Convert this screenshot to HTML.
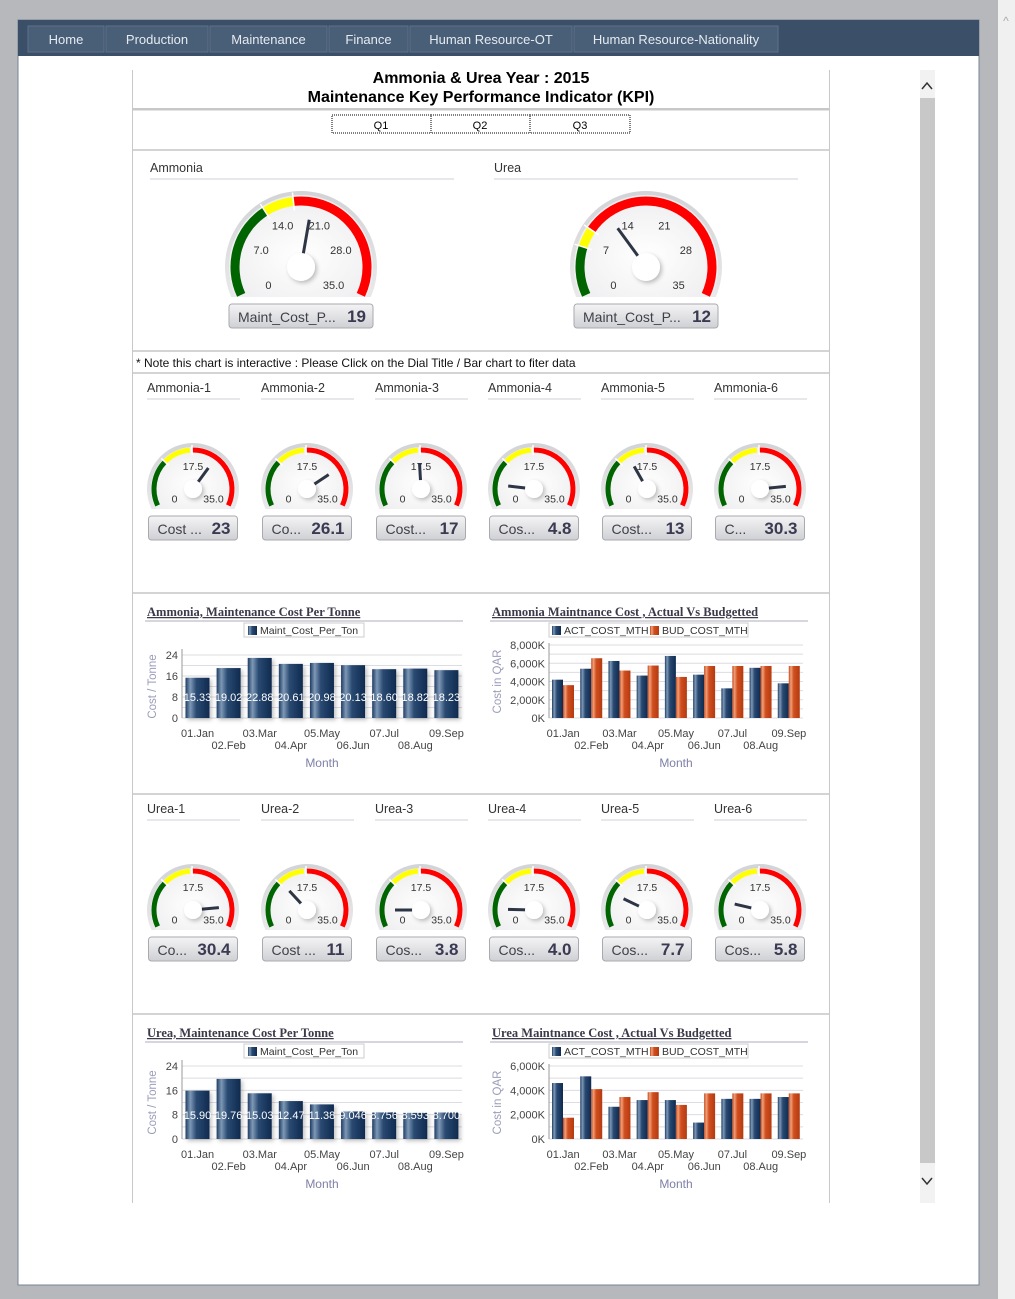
<!DOCTYPE html>
<html><head><meta charset="utf-8">
<style>
html,body{margin:0;padding:0;background:#b6b8bc;width:1015px;height:1299px;overflow:hidden;font-family:"Liberation Sans",sans-serif;}
#stage{position:absolute;left:0;top:0;}
</style></head>
<body>
<svg id="stage" width="1015" height="1299" xmlns="http://www.w3.org/2000/svg">
<defs>
<linearGradient id="bezel" x1="0" y1="0" x2="0" y2="1"><stop offset="0" stop-color="#d2d3d6"/><stop offset="1" stop-color="#e9e9eb"/></linearGradient>
<radialGradient id="face" cx="0.5" cy="0.6" r="0.6"><stop offset="0" stop-color="#ffffff"/><stop offset="1" stop-color="#eeeef0"/></radialGradient>
<linearGradient id="lbl" x1="0" y1="0" x2="0" y2="1"><stop offset="0" stop-color="#f4f4f5"/><stop offset="1" stop-color="#cfd0d4"/></linearGradient>
<linearGradient id="navy" x1="0" y1="0" x2="1" y2="0"><stop offset="0" stop-color="#1f3c63"/><stop offset="0.2" stop-color="#7e98b6"/><stop offset="0.45" stop-color="#2a4a72"/><stop offset="1" stop-color="#0f2a4f"/></linearGradient>
<linearGradient id="orng" x1="0" y1="0" x2="1" y2="0"><stop offset="0" stop-color="#c2461b"/><stop offset="0.2" stop-color="#f0a07a"/><stop offset="0.45" stop-color="#d14f1f"/><stop offset="1" stop-color="#b43a10"/></linearGradient>
<filter id="sh" x="-50%" y="-50%" width="200%" height="200%"><feDropShadow dx="2" dy="2" stdDeviation="2" flood-color="#000" flood-opacity="0.25"/></filter>
</defs>
<rect x="998" y="0" width="17" height="1299" fill="#f0f0f0"/>
<text x="1006" y="25" font-size="12" fill="#aaa" text-anchor="middle">^</text>
<rect x="18" y="20" width="961" height="1265" fill="#fff" stroke="#7a8594"/>
<rect x="18" y="20" width="961" height="36" fill="#3b5068"/>
<g id="nav"></g>
<line x1="132.5" y1="70" x2="132.5" y2="1203" stroke="#c8c8c8"/>
<line x1="829.5" y1="70" x2="829.5" y2="1203" stroke="#c8c8c8"/>
<rect x="920" y="70" width="15" height="1133" fill="#c8c8c8"/>
<rect x="920" y="70" width="15" height="28" fill="#f2f2f2"/>
<rect x="920" y="1163" width="15" height="40" fill="#f2f2f2"/>
<path d="M922,89 l5,-6 l5,6" fill="none" stroke="#333" stroke-width="1.5"/>
<path d="M922,1178 l5,6 l5,-6" fill="none" stroke="#333" stroke-width="1.5"/>
<text x="481" y="83" font-size="16" font-weight="bold" text-anchor="middle" fill="#000">Ammonia &amp; Urea Year : 2015</text>
<text x="481" y="102" font-size="16" font-weight="bold" text-anchor="middle" fill="#000">Maintenance Key Performance Indicator (KPI)</text>
<rect x="133" y="108" width="696" height="2.5" fill="#c8c8c8"/>
<g>
<rect x="332" y="115" width="99" height="18" fill="#fff" stroke="#000" stroke-dasharray="1,1"/>
<rect x="431" y="115" width="99" height="18" fill="#fff" stroke="#000" stroke-dasharray="1,1"/>
<rect x="530" y="115" width="100" height="18" fill="#fff" stroke="#000" stroke-dasharray="1,1"/>
<text x="381" y="129" font-size="11" text-anchor="middle">Q1</text>
<text x="480" y="129" font-size="11" text-anchor="middle">Q2</text>
<text x="580" y="129" font-size="11" text-anchor="middle">Q3</text>
</g>
<g fill="#d4d4d4">
<rect x="133" y="149" width="696" height="2"/>
<rect x="133" y="350" width="696" height="2"/>
<rect x="133" y="372" width="696" height="2"/>
<rect x="133" y="592" width="696" height="2"/>
<rect x="133" y="793" width="696" height="2"/>
<rect x="133" y="1013" width="696" height="2"/>
</g>
<text x="136" y="367" font-size="12" fill="#111">* Note this chart is interactive : Please Click on the Dial Title / Bar chart to fiter data</text>
<g id="gauges"></g>
<g id="charts"></g>
</svg>
<script>
// ---- data ----
var navTabs = ["Home","Production","Maintenance","Finance","Human Resource-OT","Human Resource-Nationality"];
var navEdges = [28,106,210,329,410,574,780];
var bigNames = ["Ammonia","Urea"];
var bigValues = [19, 12];
var bigDisplay = ["19","12"];
var ammoniaUnits = ["Ammonia-1","Ammonia-2","Ammonia-3","Ammonia-4","Ammonia-5","Ammonia-6"];
var ammoniaUnitValues = [23, 26.1, 17, 4.8, 13, 30.3];
var ammoniaUnitDisplay = ["23","26.1","17","4.8","13","30.3"];
var ammoniaUnitLabels = ["Cost ...","Co...","Cost...","Cos...","Cost...","C..."];
var ureaUnits = ["Urea-1","Urea-2","Urea-3","Urea-4","Urea-5","Urea-6"];
var ureaUnitValues = [30.4, 11, 3.8, 4.0, 7.7, 5.8];
var ureaUnitDisplay = ["30.4","11","3.8","4.0","7.7","5.8"];
var ureaUnitLabels = ["Co...","Cost ...","Cos...","Cos...","Cos...","Cos..."];
var months = ["01.Jan","02.Feb","03.Mar","04.Apr","05.May","06.Jun","07.Jul","08.Aug","09.Sep"];
var ammoniaCpt = [15.33,19.02,22.88,20.61,20.98,20.13,18.60,18.82,18.23];
var ammoniaCptLabels = ["15.33","19.02","22.88","20.61","20.98","20.13","18.60","18.82","18.23"];
var ureaCpt = [15.90,19.76,15.03,12.47,11.38,9.046,8.756,8.593,8.700];
var ureaCptLabels = ["15.90","19.76","15.03","12.47","11.38","9.046","8.756","8.593","8.700"];
var cptTicks = [0,8,16,24];
var ammoniaAct = [4200,5400,6250,4650,6800,4750,3250,5500,3800];
var ammoniaBud = [3600,6550,5200,5750,4500,5700,5700,5700,5700];
var ammoniaCostTicks = [0,2000,4000,6000,8000];
var ammoniaCostTickLabels = ["0K","2,000K","4,000K","6,000K","8,000K"];
var ureaAct = [4600,5150,2650,3200,3200,1350,3300,3300,3450];
var ureaBud = [1750,4100,3450,3850,2800,3750,3750,3750,3750];
var ureaCostTicks = [0,2000,4000,6000];
var ureaCostTickLabels = ["0K","2,000K","4,000K","6,000K"];

var NS="http://www.w3.org/2000/svg";
function mk(parent, tag, attrs, txt){var e=document.createElementNS(NS,tag);for(var k in attrs)e.setAttribute(k,attrs[k]);if(txt!==undefined)e.textContent=txt;parent.appendChild(e);return e;}

var nav=document.getElementById('nav');
for(var i=0;i<navTabs.length;i++){
  var g=mk(nav,'g',{});
  
  
  mk(g,'rect',{x:navEdges[i],y:26,width:navEdges[i+1]-navEdges[i]-2,height:26,fill:'#495e77',stroke:'#5d7189'});
  mk(g,'text',{x:(navEdges[i]+navEdges[i+1]-2)/2,y:44,'font-size':13,'text-anchor':'middle',fill:'#e6ebf1'},navTabs[i]);
}

function pt(cx,cy,r,deg){var t=deg*Math.PI/180;return [cx+r*Math.sin(t),cy-r*Math.cos(t)];}
function ang(v,max){return -115+230*v/max;}
function arc(cx,cy,r,a0,a1){var p=pt(cx,cy,r,a0),q=pt(cx,cy,r,a1);return 'M'+p[0]+','+p[1]+' A'+r+','+r+' 0 '+((a1-a0)>180?1:0)+' 1 '+q[0]+','+q[1];}

function gauge(parent,cx,cy,R,h,val,bands,labels,big,lblText,dispVal,name,lblW){
  var g=mk(parent,'g',{});
  
  
  var dx=Math.sqrt(R*R-h*h);
  mk(g,'path',{d:'M'+(cx-dx)+','+(cy+h)+' A'+R+','+R+' 0 1 1 '+(cx+dx)+','+(cy+h)+' Z',fill:'url(#bezel)'});
  var r2=R-4,dx2=Math.sqrt(r2*r2-h*h);
  mk(g,'path',{d:'M'+(cx-dx2)+','+(cy+h)+' A'+r2+','+r2+' 0 1 1 '+(cx+dx2)+','+(cy+h)+' Z',fill:'url(#face)'});
  var rb=big?66:39,w=big?9:5;
  bands.forEach(function(b){mk(g,'path',{d:arc(cx,cy,rb,ang(b[0],35),ang(b[1],35)),fill:'none',stroke:b[2],'stroke-width':w});});
  bands.forEach(function(b,i){if(i>0){var p=pt(cx,cy,rb-w,ang(b[0],35)),q=pt(cx,cy,rb+w,ang(b[0],35));mk(g,'line',{x1:p[0],y1:p[1],x2:q[0],y2:q[1],stroke:'#fff','stroke-width':1.5});}});
  labels.forEach(function(l){var p=pt(cx,cy,big?47:27,ang(l[0],35));mk(g,'text',{x:p[0]+(l[2]||0),y:p[1]+4+(l[3]||0),'font-size':big?11:10.5,'text-anchor':'middle',fill:'#333'},l[1]);});
  var n=pt(cx,cy,big?48:26,ang(val,35)),n0=pt(cx,cy,-3,ang(val,35));
  var needle=mk(g,'line',{x1:n0[0],y1:n0[1],x2:n[0],y2:n[1],stroke:'#2e3646','stroke-width':3});
  
  
  mk(g,'circle',{cx:cx,cy:cy,r:big?14:9,fill:'#fff',filter:'url(#sh)'});
  var by=cy+h+(big?7:7),bh=24,bx=cx-lblW/2;
  var box=mk(g,'g',{});
  
  
  mk(box,'rect',{x:bx,y:by,width:lblW,height:bh,rx:3,fill:'url(#lbl)',stroke:'#a9aab0'});
  mk(box,'text',{x:bx+9,y:by+18,'font-size':14,fill:'#40404a'},lblText);
  mk(box,'text',{x:bx+lblW-7,y:by+18,'font-size':17,'font-weight':'bold','text-anchor':'end',fill:'#3a3a52'},dispVal);
}

var G=document.getElementById('gauges');
function sectionTitle(x,y,w,t,name){var tt=mk(G,'text',{x:x,y:y,'font-size':12.5,fill:'#333'},t);mk(G,'line',{x1:x,y1:y+7,x2:x+w,y2:y+7,stroke:'#d0d2da'});}
var bigLabels=[[0,'0',10,-2],[7,'7.0',4,0],[14,'14.0',0,2],[21,'21.0',0,2],[28,'28.0',-4,0],[35,'35.0',-10,-2]];
var ureaBigLabels=[[0,'0',10,-2],[7,'7',4,0],[14,'14',0,2],[21,'21',0,2],[28,'28',-4,0],[35,'35',-10,-2]];
var bigCx=[301,646],bigTx=[150,494];
for(var i=0;i<2;i++){
  sectionTitle(bigTx[i],172,304,bigNames[i],bigNames[i].toLowerCase());
  var bands=i==0?[[0,12.5,'#006400'],[12.5,16.5,'#ffff00'],[16.5,35,'#ff0000']]:[[0,6.5,'#006400'],[6.5,9,'#ffff00'],[9,35,'#ff0000']];
  gauge(G,bigCx[i],267,76,30,bigValues[i],bands,i==0?bigLabels:ureaBigLabels,true,'Maint_Cost_P...',bigDisplay[i],bigNames[i].toLowerCase(),144);
}
var smallBands=[[0,10.5,'#006400'],[10.5,16.8,'#ffff00'],[17.3,35,'#ff0000']];
var smallLabels=[[0,'0',6,-2],[17.5,'17.5',0,4],[35,'35.0',-4,-2]];
var colX=[147,261,375,488,601,714];
for(var i=0;i<6;i++){
  sectionTitle(colX[i],392,93,ammoniaUnits[i],ammoniaUnits[i].toLowerCase());
  gauge(G,colX[i]+46,489,46,20,ammoniaUnitValues[i],smallBands,smallLabels,false,ammoniaUnitLabels[i],ammoniaUnitDisplay[i],ammoniaUnits[i].toLowerCase(),89);
  sectionTitle(colX[i],813,93,ureaUnits[i],ureaUnits[i].toLowerCase());
  gauge(G,colX[i]+46,910,46,20,ureaUnitValues[i],smallBands,smallLabels,false,ureaUnitLabels[i],ureaUnitDisplay[i],ureaUnits[i].toLowerCase(),89);
}

var C=document.getElementById('charts');
function axisCommon(g,x0,x1,y0){
  months.forEach(function(m,i){var slot=(x1-x0)/9;var x=x0+slot*(i+0.5);mk(g,'text',{x:x,y:(i%2==0)?y0+19:y0+31,'font-size':11,'text-anchor':'middle',fill:'#444'},m);});
  mk(g,'text',{x:(x0+x1)/2,y:y0+49,'font-size':12,'text-anchor':'middle',fill:'#7d80a8'},'Month');
}
function header(g,x,ty,lineX1,lineX2,title,name){
  var tt=mk(g,'text',{x:x,y:ty,'font-size':12.5,'font-weight':'bold','font-family':'Liberation Serif,serif',fill:'#3a3a4a','text-decoration':'underline'},title);
  
  mk(g,'line',{x1:lineX1,y1:ty+5,x2:lineX2,y2:ty+5,stroke:'#c8c8d4','stroke-width':1.5});
}
function cptChart(ty,y0,ytop,vals,labs,title,name){
  var g=mk(C,'g',{});
  var x0=182,x1=462,max=24;
  function ys(v){return y0-(y0-ytop)*v/max;}
  header(g,147,ty,145,463,title,name);
  var ly=ty+7;
  var lg=mk(g,'g',{});
  mk(lg,'rect',{x:244,y:ly,width:120,height:14,fill:'#fff',stroke:'#ccc'});
  mk(lg,'rect',{x:248,y:ly+3,width:9,height:9,fill:'url(#navy)'});
  mk(lg,'text',{x:260,y:ly+11,'font-size':10.5,fill:'#333'},'Maint_Cost_Per_Ton');
  for(var v=0;v<=max;v+=4){mk(g,'line',{x1:x0,y1:ys(v),x2:x1,y2:ys(v),stroke:'#dcdce2'});}
  cptTicks.forEach(function(v){mk(g,'text',{x:x0-4,y:ys(v)+4,'font-size':11,'text-anchor':'end',fill:'#444'},String(v));});
  mk(g,'line',{x1:x0,y1:ytop-6,x2:x0,y2:y0,stroke:'#999'});
  mk(g,'text',{x:0,y:0,'font-size':11.5,'text-anchor':'middle',fill:'#9a9cb8',transform:'translate(156,'+((y0+ytop)/2)+') rotate(-90)'},'Cost / Tonne');
  var slot=(x1-x0)/9;
  vals.forEach(function(v,i){
    var b=mk(g,'rect',{x:x0+slot*i+3.5,y:ys(v),width:24,height:y0-ys(v),fill:'url(#navy)',filter:'url(#sh)'});
    
    
    mk(g,'text',{x:x0+slot*i+15.5,y:ys(6.5),'font-size':11,'text-anchor':'middle',fill:'#fff'},labs[i]);
  });
  axisCommon(g,x0,x1,y0);
}
function costChart(ty,y0,ytop,max,act,bud,ticks,tickLabs,title,name){
  var g=mk(C,'g',{});
  var x0=549,x1=803;
  function ys(v){return y0-(y0-ytop)*v/max;}
  header(g,492,ty,490,808,title,name);
  var ly=ty+7;
  var lg=mk(g,'g',{});
  mk(lg,'rect',{x:549,y:ly,width:199,height:14,fill:'#fff',stroke:'#ccc'});
  mk(lg,'rect',{x:552,y:ly+3,width:9,height:9,fill:'url(#navy)'});
  mk(lg,'text',{x:564,y:ly+11,'font-size':10.5,fill:'#333'},'ACT_COST_MTH');
  mk(lg,'rect',{x:650,y:ly+3,width:9,height:9,fill:'url(#orng)'});
  mk(lg,'text',{x:662,y:ly+11,'font-size':10.5,fill:'#333'},'BUD_COST_MTH');
  for(var v=0;v<=max;v+=1000){mk(g,'line',{x1:x0,y1:ys(v),x2:x1,y2:ys(v),stroke:'#dcdce2'});}
  ticks.forEach(function(v,i){mk(g,'text',{x:x0-4,y:ys(v)+4,'font-size':11,'text-anchor':'end',fill:'#444'},tickLabs[i]);});
  mk(g,'line',{x1:x0,y1:ytop-2,x2:x0,y2:y0,stroke:'#999'});
  mk(g,'text',{x:0,y:0,'font-size':11.5,'text-anchor':'middle',fill:'#9a9cb8',transform:'translate(501,'+((y0+ytop)/2)+') rotate(-90)'},'Cost in QAR');
  var slot=(x1-x0)/9;
  act.forEach(function(v,i){
    var b=mk(g,'rect',{x:x0+slot*i+3,y:ys(v),width:11,height:y0-ys(v),fill:'url(#navy)'});
    
    
    var c=mk(g,'rect',{x:x0+slot*i+14,y:ys(bud[i]),width:11,height:y0-ys(bud[i]),fill:'url(#orng)'});
    
    
  });
  axisCommon(g,x0,x1,y0);
}
cptChart(616,718,655,ammoniaCpt,ammoniaCptLabels,'Ammonia, Maintenance Cost Per Tonne','ammonia-cost-per-tonne-chart');
costChart(616,718,645,8000,ammoniaAct,ammoniaBud,ammoniaCostTicks,ammoniaCostTickLabels,'Ammonia Maintnance Cost , Actual Vs Budgetted','ammonia-actual-vs-budget-chart');
cptChart(1037,1139,1066,ureaCpt,ureaCptLabels,'Urea, Maintenance Cost Per Tonne','urea-cost-per-tonne-chart');
costChart(1037,1139,1066,6000,ureaAct,ureaBud,ureaCostTicks,ureaCostTickLabels,'Urea Maintnance Cost , Actual Vs Budgetted','urea-actual-vs-budget-chart');
</script>
</body></html>
